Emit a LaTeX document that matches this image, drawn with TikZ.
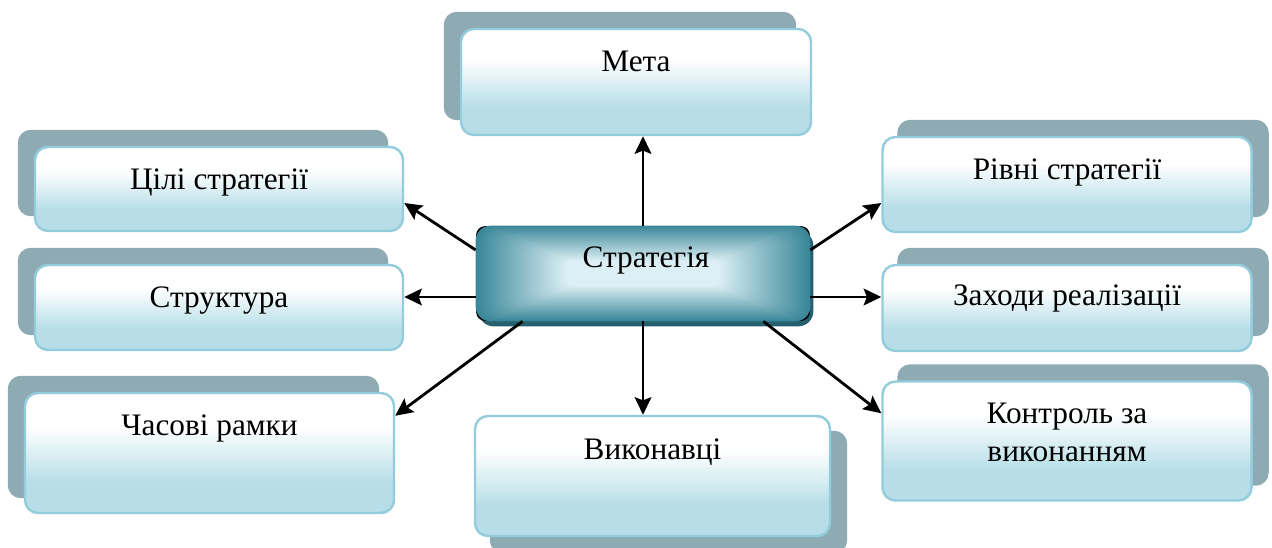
\documentclass[tikz,border=0pt]{standalone}
\usepackage{fontspec}
\setmainfont{Liberation Serif}
\usepackage{xcolor}
\usetikzlibrary{arrows.meta,backgrounds}
\definecolor{boxblue}{HTML}{B7DEE8}
\definecolor{boxedge}{HTML}{93CDDD}
\definecolor{shadegray}{HTML}{8EABB3}
\definecolor{stratteal}{HTML}{3A8799}
\definecolor{stratlight}{HTML}{DCEFF4}
\definecolor{stratdark}{HTML}{24606E}
\pgfdeclareverticalshading{boxgrad}{100bp}{color(0bp)=(boxblue); color(25bp)=(boxblue); color(38bp)=(boxblue); color(61bp)=(white); color(100bp)=(white)}
\tikzset{
	itembox/.style={draw=boxedge, line width=1.4pt, rounded corners=0.26cm, shading=boxgrad, minimum width=7.36cm},
	stratbox/.style={minimum width=6.68cm, minimum height=1.9cm},
	itemshadow/.style={fill=shadegray, rounded corners=0.26cm},
	lbl/.style={anchor=base, align=center, inner sep=0pt, font=\fontsize{17.8}{21.8}\selectfont},
	arr/.style={line width=1.6pt, -{Stealth[length=10pt, width=9.5pt, inset=1.8pt]}}
}
\begin{document}
\begin{tikzpicture}
	\useasboundingbox (0,0) rectangle (25.44,10.94);
	\node[itembox, minimum width=7.0cm, minimum height=2.12cm] (meta) at (12.72,9.30) {};
	\node[itembox, minimum height=1.68cm] (tsili) at (4.38,7.16) {};
	\node[itembox, minimum height=1.70cm] (strukt) at (4.38,4.79) {};
	\node[itembox, minimum width=7.38cm, minimum height=2.40cm] (chas) at (4.19,1.88) {};
	\node[itembox, minimum width=7.10cm, minimum height=2.40cm] (vykon) at (13.05,1.42) {};
	\node[itembox, minimum width=7.38cm, minimum height=1.90cm] (rivni) at (21.34,7.25) {};
	\node[itembox, minimum width=7.38cm, minimum height=1.72cm] (zakhody) at (21.34,4.78) {};
	\node[itembox, minimum width=7.38cm, minimum height=2.38cm] (kontrol) at (21.34,2.12) {};
	\node[stratbox] (strat) at (12.86,5.47) {};

	\begin{scope}[on background layer]
		\fill[itemshadow] ([shift={(-0.32,0.32)}]meta.south west) rectangle ([shift={(-0.32,0.32)}]meta.north east);
		\fill[itemshadow] ([shift={(-0.32,0.32)}]tsili.south west) rectangle ([shift={(-0.32,0.32)}]tsili.north east);
		\fill[itemshadow] ([shift={(-0.32,0.32)}]strukt.south west) rectangle ([shift={(-0.32,0.32)}]strukt.north east);
		\fill[itemshadow] ([shift={(-0.32,0.32)}]chas.south west) rectangle ([shift={(-0.32,0.32)}]chas.north east);
		\fill[itemshadow] ([shift={(0.32,-0.32)}]vykon.south west) rectangle ([shift={(0.32,-0.32)}]vykon.north east);
		\fill[itemshadow] ([shift={(0.32,0.32)}]rivni.south west) rectangle ([shift={(0.32,0.32)}]rivni.north east);
		\fill[itemshadow] ([shift={(0.32,0.32)}]zakhody.south west) rectangle ([shift={(0.32,0.32)}]zakhody.north east);
		\fill[itemshadow] ([shift={(0.32,0.32)}]kontrol.south west) rectangle ([shift={(0.32,0.32)}]kontrol.north east);
		\fill[stratdark, rounded corners=0.3cm] ([shift={(0.06,-0.1)}]strat.south west) rectangle ([shift={(0.06,-0.1)}]strat.north east);
		\draw[black, line width=1.2pt, rounded corners=0.16cm] ([shift={(0.03,0.03)}]strat.south west) rectangle ([shift={(-0.03,-0.03)}]strat.north east);
	\end{scope}

	\foreach \i in {0,...,30}{
		\pgfmathsetmacro{\p}{100*\i/30}
		\pgfmathsetmacro{\dx}{1.8*\i/30}
		\pgfmathsetmacro{\dy}{0.7*\i/30}
		\pgfmathsetmacro{\rc}{0.3-0.15*\i/30}
		\fill[stratlight!\p!stratteal, rounded corners=\rc cm] ([shift={(\dx,\dy)}]strat.south west) rectangle ([shift={(-\dx,-\dy)}]strat.north east);
	}

	\node[lbl] (metat) at ([yshift=-0.88cm]meta.north) {Мета};
	\node[lbl] (tsilit) at ([yshift=-0.88cm]tsili.north) {Цілі стратегії};
	\node[lbl] (struktt) at ([yshift=-0.88cm]strukt.north) {Структура};
	\node[lbl] (chast) at ([yshift=-0.88cm]chas.north) {Часові рамки};
	\node[lbl] (vykont) at ([yshift=-0.9cm]vykon.north) {Виконавці};
	\node[lbl] (rivnit) at ([yshift=-0.88cm]rivni.north) {Рівні стратегії};
	\node[lbl] (zakhodyt) at ([yshift=-0.84cm]zakhody.north) {Заходи реалізації};
	\node[lbl] (kontrolt) at ([yshift=-1.63cm]kontrol.north) {Контроль за\\виконанням};
	\node[lbl] (stratt) at ([shift={(0.06,-0.84)}]strat.north) {Стратегія};

	\coordinate (sl) at ([yshift=-0.47cm]strat.west);
	\coordinate (sr) at ([yshift=-0.47cm]strat.east);
	\draw[arr] (strat.north) -- (strat.north |- meta.south);
	\draw[arr] (strat.south) -- (strat.south |- vykon.north);
	\draw[arr] ([yshift=0.47cm]strat.west) -- ([yshift=-0.28cm]tsili.east);
	\draw[arr] (sl) -- (sl -| strukt.east);
	\draw[arr] ([xshift=0.94cm]strat.south west) -- ([yshift=-0.48cm]chas.north east);
	\draw[arr] ([yshift=0.47cm]strat.east) -- ([yshift=-0.37cm]rivni.west);
	\draw[arr] (sr) -- (sr -| zakhody.west);
	\draw[arr] ([xshift=-0.94cm]strat.south east) -- ([yshift=-0.66cm]kontrol.north west);
\end{tikzpicture}
\end{document}
